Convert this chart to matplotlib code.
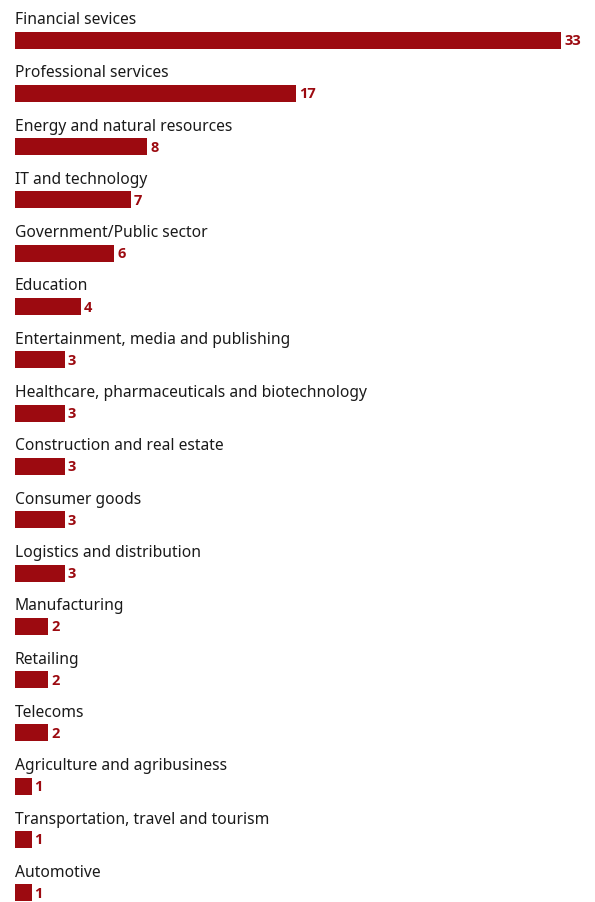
import matplotlib.pyplot as plt
import numpy as np

plt.rcParams['font.family'] = ['Noto Sans', 'DejaVu Sans']

categories = ['Financial sevices', 'Professional services', 'Energy and natural resources',
              'IT and technology', 'Government/Public sector', 'Education',
              'Entertainment, media and publishing', 'Healthcare, pharmaceuticals and biotechnology',
              'Construction and real estate', 'Consumer goods', 'Logistics and distribution',
              'Manufacturing', 'Retailing', 'Telecoms', 'Agriculture and agribusiness',
              'Transportation, travel and tourism', 'Automotive']
values = [33, 17, 8, 7, 6, 4, 3, 3, 3, 3, 3, 2, 2, 2, 1, 1, 1]

bar_color = '#9c0a10'
W, H = 595, 902
px_unit = 16.55   # pixels per value unit
row_px = 53.3     # pixels between rows
x0_px, y0_px = 15, 40

fig = plt.figure(figsize=(W / 100, H / 100), dpi=100)
ax = fig.add_axes([0, 0, 1, 1])
ax.set_xlim(-x0_px / px_unit, (W - x0_px) / px_unit)
ax.set_ylim((H - y0_px) / row_px, -y0_px / row_px)
ax.axis('off')

y = np.arange(len(values))
ax.barh(y, values, height=17 / row_px, color=bar_color, left=0)

for i, (cat, v) in enumerate(zip(categories, values)):
    ax.text(0, i - 16 / row_px, cat, fontsize=11.25, color='#1a1a1a', ha='left', va='baseline')
    ax.text(v + 3 / px_unit, i + 1 / row_px, str(v), fontsize=10.5, fontweight='bold', color=bar_color,
            family=['Open Sans', 'DejaVu Sans'], ha='left', va='center')

fig.savefig('out.png', dpi=100)
